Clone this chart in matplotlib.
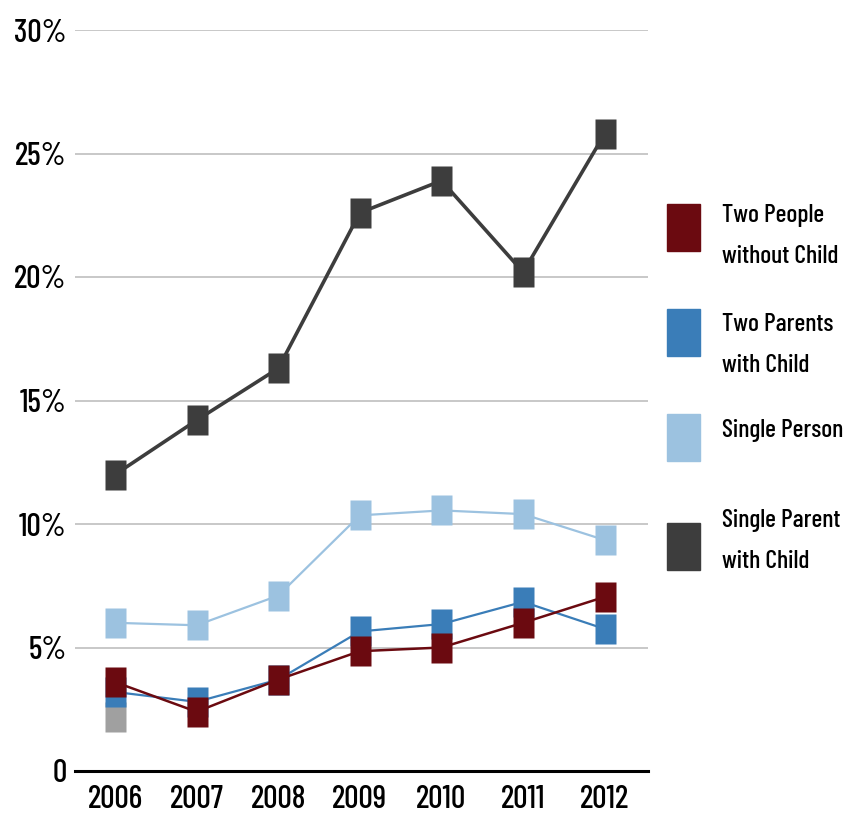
import matplotlib
matplotlib.use("Agg")
import matplotlib.pyplot as plt
from matplotlib import font_manager as fm
from matplotlib.patches import Rectangle

years = [2006, 2007, 2008, 2009, 2010, 2011, 2012]
series_names = ["Two People\nwithout Child", "Two Parents\nwith Child", "Single Person", "Single Parent\nwith Child"]
two_people = [3.6, 2.4, 3.7, 4.85, 5.0, 6.0, 7.05]
two_parents = [3.2, 2.8, 3.7, 5.65, 5.95, 6.85, 5.75]
single_person = [6.0, 5.9, 7.1, 10.35, 10.55, 10.4, 9.35]
single_parent = [12.0, 14.2, 16.3, 22.6, 23.9, 20.2, 25.8]
other_year = [2006]
other_value = [2.2]
yticks = [0, 5, 10, 15, 20, 25, 30]
ytick_labels = ["0", "5%", "10%", "15%", "20%", "25%", "30%"]

names = {f.name for f in fm.fontManager.ttflist}
fam = "DejaVu Sans"
for cand in ["Barlow Condensed", "Archivo Narrow", "Roboto Condensed"]:
    if cand in names:
        fam = cand
        break
fw = "medium"

colors = ["#6b0a10", "#3a7db8", "#9cc2e0", "#3d3d3d"]

fig = plt.figure(figsize=(8.52, 8.14), dpi=100)
ax = fig.add_axes([75/852, 1-771/814, (648-75)/852, (771-30)/814])
ax.set_xlim(2005.51, 2012.53)
ax.set_ylim(0, 30)

for y in yticks[1:]:
    ax.axhline(y, color="#c4c4c4", lw=1.3, zorder=0)
for s in ["top", "right", "left"]:
    ax.spines[s].set_visible(False)
ax.spines["bottom"].set_linewidth(2.2)
ax.spines["bottom"].set_color("black")
ax.tick_params(length=0, labelsize=23)
ax.tick_params(axis="y", pad=6)
ax.tick_params(axis="x", pad=10)
ax.set_yticks(yticks)
ax.set_yticklabels(ytick_labels, fontfamily=fam, fontweight=fw)
ax.set_xticks(years)
ax.set_xticklabels([str(y) for y in years], fontfamily=fam, fontweight=fw)

rect = [(-0.36, -0.5), (0.36, -0.5), (0.36, 0.5), (-0.36, 0.5), (-0.36, -0.5)]
ax.plot(other_year, other_value, linestyle="none", marker=rect, ms=21, color="#a0a0a0", mec="none", zorder=2)
data = [single_person, two_parents, two_people, single_parent]
cols = [colors[2], colors[1], colors[0], colors[3]]
lws = [1.6, 1.6, 1.8, 2.6]
for vals, c, lw in zip(data, cols, lws):
    ax.plot(years, vals, color=c, lw=lw, marker=rect, ms=21, mec="none", zorder=3)

# legend
leg_y = [236, 345, 431, 541]
for name, c, yc, ry in zip(series_names, colors, leg_y, [227, 332, 437, 546]):
    fig.patches.append(Rectangle((667/852, 1-(ry+24)/814), 33/852, 47/814,
                                 transform=fig.transFigure, color=c, figure=fig))
    fig.text(722/852, 1-yc/814, name, fontsize=18.5, fontfamily=fam, fontweight=fw,
             va="center", ha="left", linespacing=2.0)

fig.savefig("out.png", dpi=100)
